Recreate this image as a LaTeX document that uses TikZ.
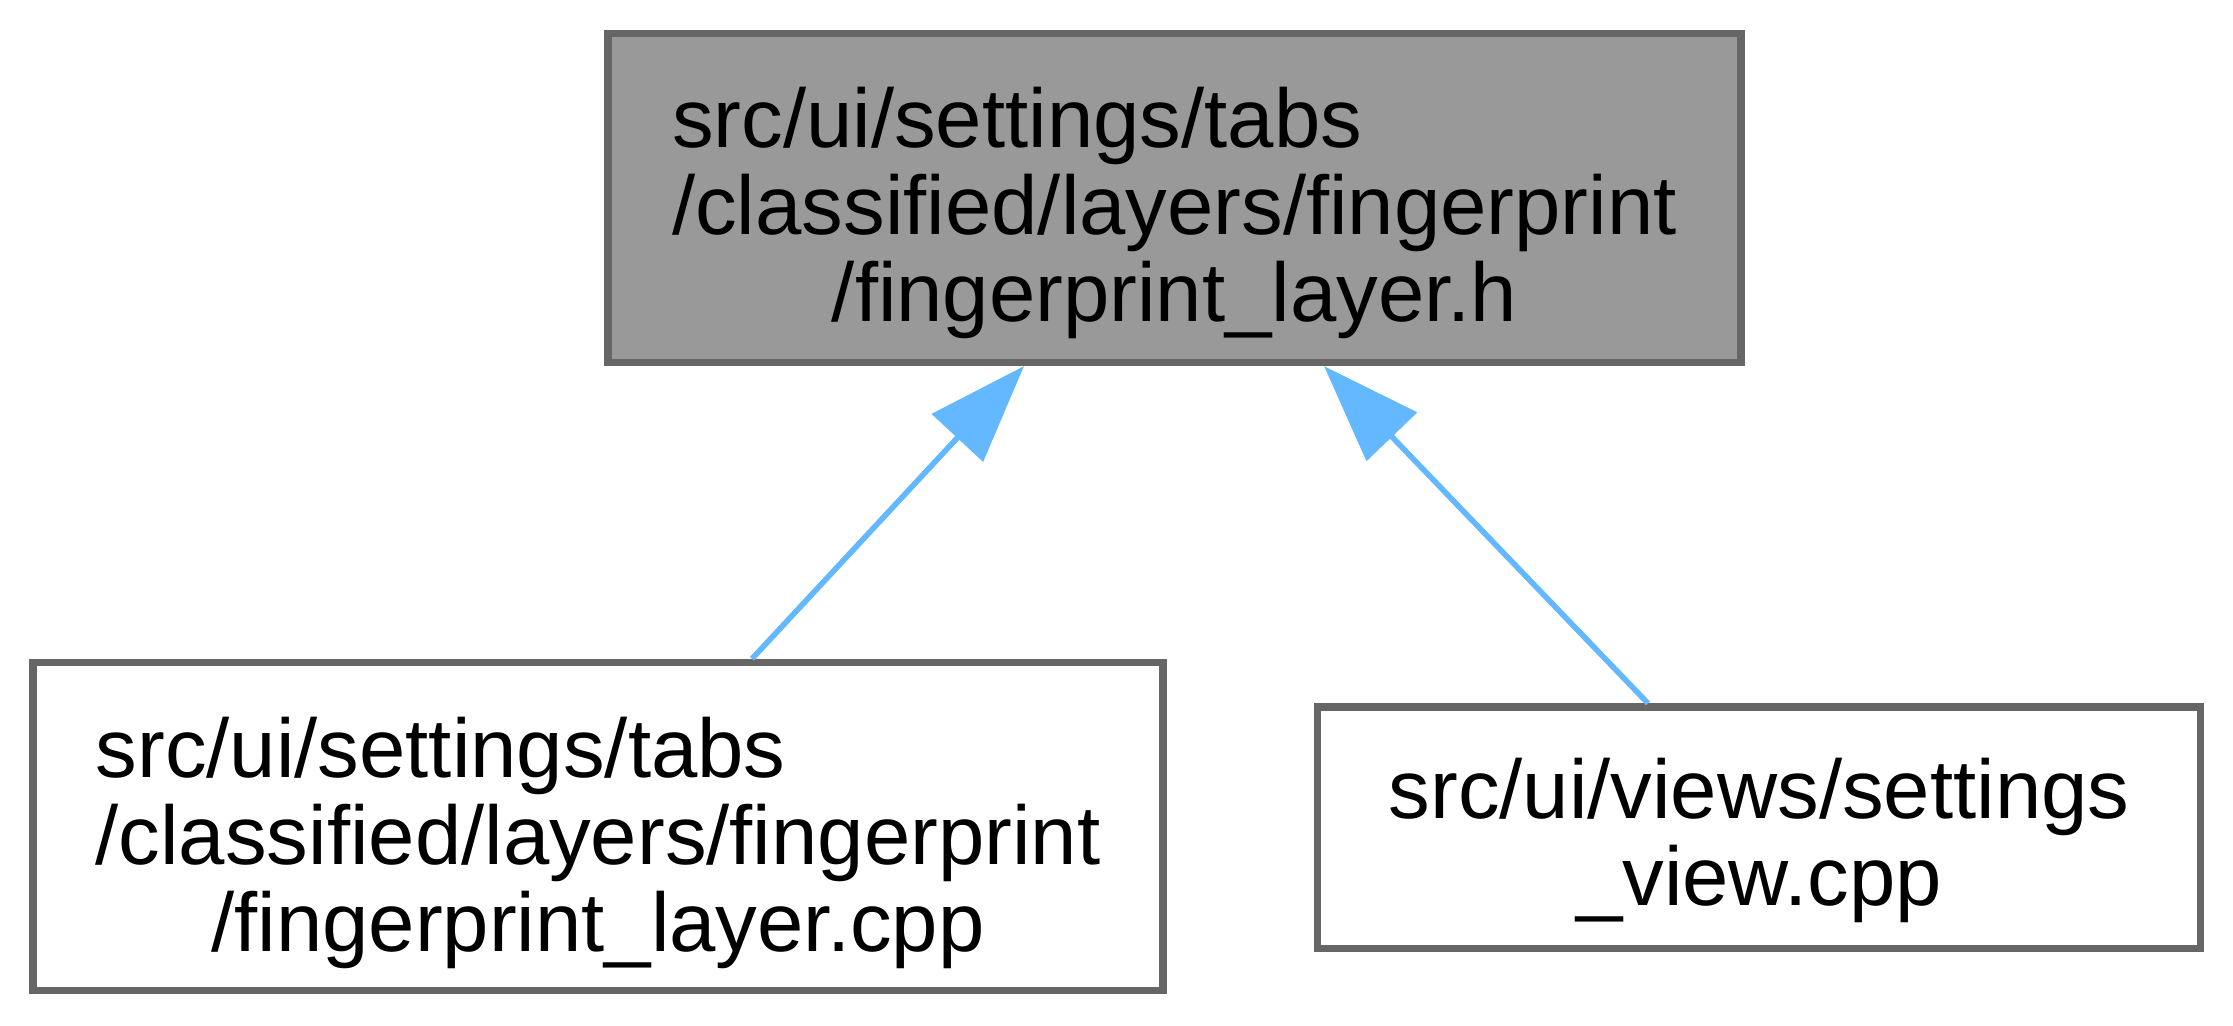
\documentclass[tikz,border=0pt]{standalone}
\usepackage{fontspec}
\setmainfont{Liberation Sans}
\usetikzlibrary{arrows.meta,calc}
\definecolor{edgeblue}{HTML}{63B8FF}
\definecolor{bordergray}{HTML}{666666}
\definecolor{fillgray}{HTML}{999999}
\newcommand{\doxlabel}[2]{\raisebox{-#1}[\height][\depth]{\begin{tabular}{@{}c@{}}#2\end{tabular}}}
\begin{document}
\begin{tikzpicture}[x=0.5pt,y=-0.5pt,
  filebox/.style={draw=bordergray, line width=3.6pt, fill=white, rectangle, inner sep=0pt,
    font=\fontsize{41.65pt}{43.5pt}\selectfont},
  edgeline/.style={draw=edgeblue, line width=2.8pt, {Triangle[length=49pt,width=34.5pt]}-}]
\useasboundingbox (0,0) rectangle (2233,1025);

\node[filebox, fill=fillgray, minimum width=566.5pt, minimum height=164.5pt] (top) at (1174.5,198)
  {\doxlabel{9.3pt}{\multicolumn{1}{@{}l@{}}{src/ui/settings/tabs}\\/classified/layers/fingerprint\\/fingerprint\_layer.h}};

\node[filebox, minimum width=565pt, minimum height=164.25pt] (bl) at (598,826.6)
  {\doxlabel{10pt}{\multicolumn{1}{@{}l@{}}{src/ui/settings/tabs}\\/classified/layers/fingerprint\\/fingerprint\_layer.cpp}};

\node[filebox, minimum width=441.75pt, minimum height=120.65pt] (br) at (1759,827.6)
  {\doxlabel{8.6pt}{src/ui/views/settings\\\_view.cpp}};

\draw[edgeline] ($(top.south)+(-150.5,0)$) -- ($(bl.north)+(154,0)$);
\draw[edgeline] ($(top.south)+(149.5,0)$) -- ($(br.north)+(-111,0)$);
\end{tikzpicture}
\end{document}
